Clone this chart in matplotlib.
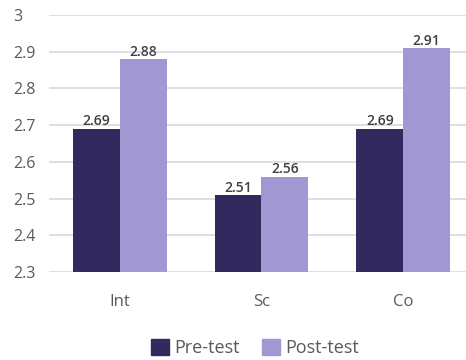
import matplotlib
matplotlib.use("Agg")
import matplotlib.pyplot as plt
import numpy as np
from matplotlib.patches import Patch

categories = ["Int", "Sc", "Co"]
pre_test = [2.69, 2.51, 2.69]
post_test = [2.88, 2.56, 2.91]
yticks = [2.3, 2.4, 2.5, 2.6, 2.7, 2.8, 2.9, 3.0]
ytick_labels = ["2.3", "2.4", "2.5", "2.6", "2.7", "2.8", "2.9", "3"]

plt.rcParams['font.family'] = ['Open Sans', 'DejaVu Sans']

fig = plt.figure(figsize=(4.66, 3.6), dpi=100)
ax = fig.add_axes([49/466, 1 - 272/360, (474 - 49)/466, (272 - 15)/360])

x = np.arange(len(categories))
w = 0.33
c_pre = "#322a5e"
c_post = "#a097d3"
b1 = ax.bar(x - w/2, pre_test, w, color=c_pre, zorder=3)
b2 = ax.bar(x + w/2, post_test, w, color=c_post, zorder=3)

for bars, vals in ((b1, pre_test), (b2, post_test)):
    for r, v in zip(bars, vals):
        ax.text(r.get_x() + r.get_width()/2, v + 0.001, f"{v:.2f}", ha="center", va="bottom",
                fontsize=10, fontweight="semibold", color="#404040", zorder=4)

ax.set_xlim(-0.5, 2.5)
ax.set_ylim(2.3, 3.0)
ax.set_yticks(yticks)
ax.set_yticklabels(ytick_labels)
ax.set_xticks(x)
ax.set_xticklabels(categories)
ax.tick_params(axis="both", length=0, labelsize=11.5, colors="#595959")
ax.tick_params(axis="x", labelsize=12, pad=16)
ax.tick_params(axis="y", pad=26)
for lab in ax.get_yticklabels():
    lab.set_horizontalalignment("left")
ax.grid(axis="y", color="#d9d9d9", linewidth=1.2, zorder=0)
for s in ax.spines.values():
    s.set_visible(False)

handles = [Patch(color=c_pre, label="Pre-test"), Patch(color=c_post, label="Post-test")]
fig.legend(handles=handles, loc="center", bbox_to_anchor=(255/466, 1 - 348/360), ncol=2,
           frameon=False, fontsize=13, handlelength=1.0, handleheight=1.0, handletextpad=0.3,
           columnspacing=1.2, labelcolor="#595959")

fig.savefig("out.png", dpi=100)
